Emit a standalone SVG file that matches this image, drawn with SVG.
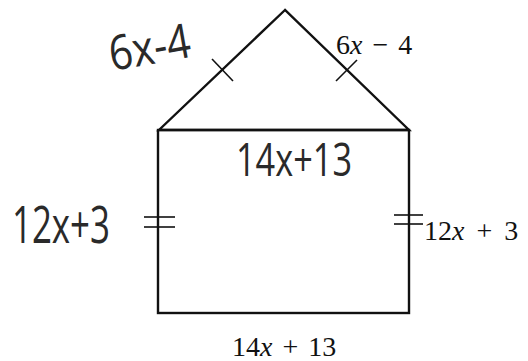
<svg xmlns="http://www.w3.org/2000/svg" width="528" height="361" viewBox="0 0 528 361">
<style>
.ln{fill:none;stroke:#111;stroke-width:2.4;stroke-linejoin:miter}
.tk{fill:none;stroke:#111;stroke-width:1.6}
.hw{font-family:"Open Sans","DejaVu Sans",sans-serif;font-weight:400;fill:#2a2a2a}
.ty{font-family:"Liberation Serif",serif;fill:#111;font-size:28px}
</style>
<rect width="528" height="361" fill="#fff"/>
<g id="roof">
<polygon class="ln" points="285,10 159,130 409,130"/>
</g>
<g id="walls">
<rect class="ln" x="158" y="130" width="251" height="183"/>
</g>
<g id="connectors">
<line class="tk" x1="212" y1="59" x2="233" y2="81"/>
<line class="tk" x1="336" y1="81" x2="357" y2="60"/>
<line class="tk" x1="144" y1="217" x2="175" y2="217"/>
<line class="tk" x1="144" y1="227" x2="175" y2="227"/>
<line class="tk" x1="394" y1="215" x2="423" y2="215"/>
<line class="tk" x1="394" y1="224" x2="423" y2="224"/>
</g>
<g id="labels">
<text class="hw" x="108" y="64" font-size="48" textLength="82" lengthAdjust="spacingAndGlyphs" transform="rotate(-10 150 45)">6x-4</text>
<text class="ty" x="336" y="54" word-spacing="3"><tspan>6</tspan><tspan font-style="italic">x</tspan> − 4</text>
<text class="hw" x="236" y="176" font-size="46" textLength="116" lengthAdjust="spacingAndGlyphs">14x+13</text>
<text class="hw" x="12" y="243" font-size="52" textLength="98" lengthAdjust="spacingAndGlyphs">12x+3</text>
<text class="ty" x="424" y="240" word-spacing="5">12<tspan font-style="italic">x</tspan> + 3</text>
<text class="ty" x="232" y="356" word-spacing="3">14<tspan font-style="italic">x</tspan> + 13</text>
</g>
</svg>
